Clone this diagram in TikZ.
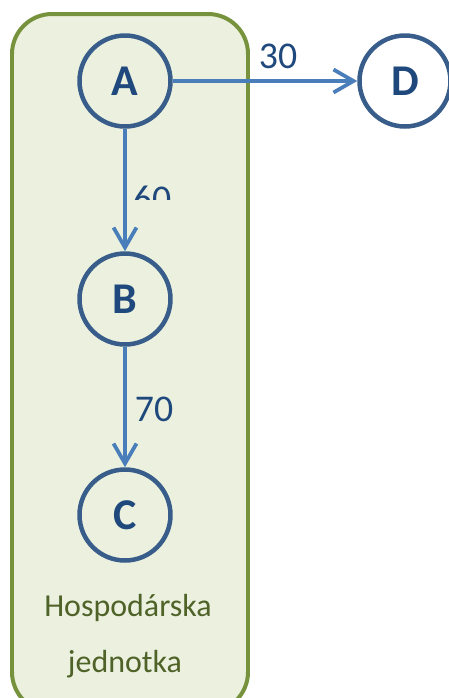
\documentclass[tikz,border=0pt]{standalone}
\usepackage{fontspec}
\setmainfont{Carlito}
\usepackage{xcolor}
\definecolor{BoxFill}{RGB}{235,241,222}
\definecolor{BoxBorder}{RGB}{118,146,60}
\definecolor{BoxText}{RGB}{79,98,40}
\definecolor{NodeBorder}{RGB}{56,93,138}
\definecolor{NodeText}{RGB}{31,73,125}
\definecolor{EdgeColor}{RGB}{74,126,187}
\usetikzlibrary{arrows.meta}
\tikzset{
  % Vertex of the graph
  vertex/.style={
    circle,
    draw=NodeBorder,
    line width=0.09cm,
    minimum size=1.82cm,
    inner sep=0pt,
    text=NodeText,
    font=\fontsize{25}{25}\selectfont\bfseries
  },
  % Directed edge
  dedge/.style={
    draw=EdgeColor,
    line width=0.075cm,
    -{Straight Barb[length=0.4cm,width=0.46cm,line width=0.075cm]}
  },
  % Weight of an edge
  weight/.style={
    anchor=base,
    inner sep=0pt,
    text=NodeText,
    font=\fontsize{21.5}{21.5}\selectfont
  },
  % Label of the unit
  ulabel/.style={
    anchor=base,
    inner sep=0pt,
    text=BoxText,
    font=\fontsize{18.2}{18.2}\selectfont
  }
}
\begin{document}
\begin{tikzpicture}[x=0.02cm,y=-0.02cm]
  \clip (0,0) rectangle (449,698);
  \useasboundingbox (0,0) rectangle (449,698);
  \draw[draw=BoxBorder, fill=BoxFill, line width=0.08cm, rounded corners=0.8cm]
    (12,14) rectangle (248,712);
  \node[vertex] (A) at (125,81) {A};
  \node[vertex] (D) at (405,81) {D};
  \node[vertex] (B) at (125,299) {B};
  \node[vertex] (C) at (125,515) {C};
  \draw[dedge] (A) -- (D);
  \draw[dedge] (A) -- (B);
  \draw[dedge] (B) -- (C);
  \node[weight] (wAD) at (278,68) {30};
  \begin{scope}
    \clip (128,170) rectangle (180,199);
    \node[weight] (wAB) at (152,211) {60};
  \end{scope}
  \node[weight] (wBC) at (154,421) {70};
  \node[ulabel] (u1) at (128,616) {Hospodárska};
  \node[ulabel] (u2) at (125,672) {jednotka};
\end{tikzpicture}
\end{document}
